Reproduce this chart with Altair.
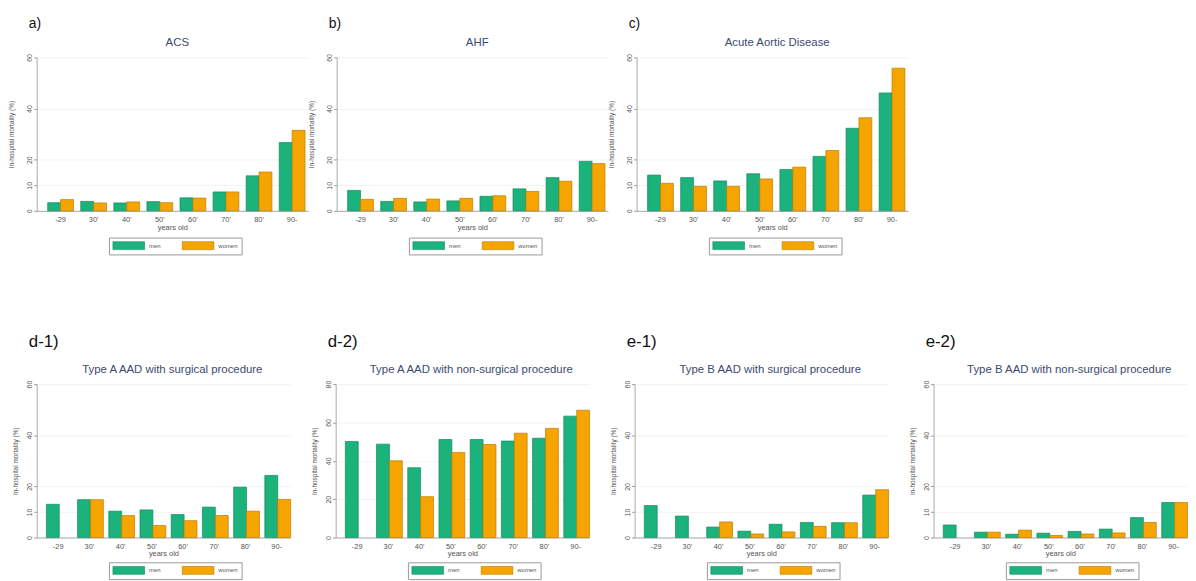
import altair as alt
import pandas as pd

categories = ["-29", "30'", "40'", "50'", "60'", "70'", "80'", "90-"]
sexes = ["men", "women"]

acs_men = [3.2, 3.7, 3.1, 3.6, 5.1, 7.4, 13.7, 26.7]
acs_women = [4.4, 3.1, 3.5, 3.2, 5.0, 7.4, 15.2, 31.5]
ahf_men = [8.0, 3.7, 3.5, 3.9, 5.7, 8.6, 13.0, 19.4]
ahf_women = [4.5, 4.9, 4.6, 4.9, 5.9, 7.6, 11.6, 18.5]
aad_men = [14.0, 13.0, 11.7, 14.5, 16.2, 21.3, 32.3, 46.1]
aad_women = [10.8, 9.6, 9.6, 12.5, 17.1, 23.6, 36.4, 55.8]
d1_men = [13.0, 14.8, 10.3, 10.8, 9.0, 11.9, 19.7, 24.3]
d1_women = [None, 14.8, 8.6, 4.7, 6.6, 8.6, 10.3, 14.9]
d2_men = [50.1, 48.7, 36.4, 51.1, 51.1, 50.3, 51.8, 63.3]
d2_women = [None, 40.0, 21.3, 44.4, 48.5, 54.4, 56.9, 66.4]
e1_men = [12.5, 8.4, 4.1, 2.5, 5.2, 5.9, 5.8, 16.6]
e1_women = [None, None, 6.1, 1.4, 2.2, 4.4, 5.8, 18.7]
e2_men = [4.9, 2.1, 1.3, 1.7, 2.4, 3.3, 7.8, 13.7]
e2_women = [None, 2.1, 2.9, 0.8, 1.4, 1.8, 5.9, 13.7]

y_title = "In-hospital mortality (%)"
x_title = "years old"
ticks_60 = [0, 10, 20, 40, 60]
ticks_80 = [0, 20, 40, 60, 80]

GREEN = "#1bb27c"
ORANGE = "#f6a500"
FONT = "Liberation Sans"


def make_panel(label, title, men, women, ymax, yticks, width, pad_outer,
               align, pad_inner, y_title_pad, head_dx, head_dy, label_size,
               label_offset, legend_y):
    rows = []
    for c, m, w in zip(categories, men, women):
        if m is not None:
            rows.append({"age": c, "sex": "men", "value": m})
        if w is not None:
            rows.append({"age": c, "sex": "women", "value": w})
    df = pd.DataFrame(rows)

    bars = alt.Chart(df).mark_bar(strokeWidth=0.7).encode(
        x=alt.X(
            "age:N", sort=categories,
            scale=alt.Scale(domain=categories, paddingInner=pad_inner,
                            paddingOuter=pad_outer, align=align),
            axis=alt.Axis(title=x_title, labelAngle=0, ticks=False, tickSize=0,
                          labelPadding=5, labelFontSize=7.5, labelColor="#555",
                          titleFontSize=7.5, titleFontWeight="normal",
                          titleColor="#555", titlePadding=0,
                          domainColor="#aaa", grid=False, labelFont=FONT,
                          titleFont=FONT),
        ),
        xOffset=alt.XOffset("sex:N", sort=sexes,
                            scale=alt.Scale(domain=sexes, paddingInner=0,
                                            paddingOuter=0)),
        y=alt.Y(
            "value:Q",
            scale=alt.Scale(domain=[0, ymax], nice=False),
            axis=alt.Axis(title=y_title, values=yticks, labelAngle=270,
                          labelFontSize=7, labelColor="#555", tickSize=3,
                          tickColor="#999", labelPadding=1,
                          titleFontSize=6.5, titleFontWeight="normal",
                          titleColor="#555", titlePadding=y_title_pad,
                          domainColor="#aaa", grid=True, gridColor="#efefef",
                          gridWidth=0.8, labelFont=FONT, titleFont=FONT),
        ),
        color=alt.Color(
            "sex:N", sort=sexes,
            scale=alt.Scale(domain=sexes, range=[GREEN, ORANGE]),
            legend=alt.Legend(
                title=None, orient="none", direction="horizontal",
                legendX=73, legendY=legend_y,
                symbolType="M-4,-1H4V1H-4Z", symbolSize=64,
                symbolOffset=12,
                symbolStrokeWidth=0.6, symbolStrokeColor="#777",
                labelFontSize=6, labelColor="#555", labelFont=FONT,
                labelOffset=16, columnPadding=20, padding=3.5,
                strokeColor="#999", fillColor="white",
            ),
        ),
        stroke=alt.Stroke(
            "sex:N", sort=sexes,
            scale=alt.Scale(domain=sexes, range=["#138a5d", "#b97c06"]),
            legend=None,
        ),
    )

    head = alt.Chart(pd.DataFrame({"t": [title]})).mark_text(
        align="center", baseline="middle", fontSize=11.5, font=FONT,
        color="#3d4a72"
    ).encode(text="t:N", x=alt.value(width / 2 + head_dx),
             y=alt.value(head_dy))

    return alt.layer(bars, head).properties(
        width=width, height=155,
        title=alt.TitleParams(text=label, fontSize=label_size, font=FONT,
                              fontWeight="normal", color="#111",
                              anchor="start", frame="group", dx=-8,
                              offset=label_offset),
    ).resolve_scale(color="independent", stroke="independent")


top_specs = [
    ("a)", "ACS", acs_men, acs_women),
    ("b)", "AHF", ahf_men, ahf_women),
    ("c)", "Acute Aortic Disease", aad_men, aad_women),
]
bottom_specs = [
    ("d-1)", "Type A AAD with surgical procedure", d1_men, d1_women, 60, ticks_60),
    ("d-2)", "Type A AAD with non-surgical procedure", d2_men, d2_women, 80, ticks_80),
    ("e-1)", "Type B AAD with surgical procedure", e1_men, e1_women, 60, ticks_60),
    ("e-2)", "Type B AAD with non-surgical procedure", e2_men, e2_women, 60, ticks_60),
]

top_row = alt.hconcat(
    *[make_panel(l, t, m, w, 60, ticks_60, 274, 0.21, 0.79, 0.22, 11.5, 5,
                 -15, 14, 5.5, 182)
      for l, t, m, w in top_specs],
    spacing=0,
).resolve_scale(color="independent", stroke="independent")

bottom_row = alt.hconcat(
    *[make_panel(l, t, m, w, ym, tk, 256, 0.18, 0.86, 0.24, 7.5, 9,
                 -14, 17, 13.5, 180)
      for l, t, m, w, ym, tk in bottom_specs],
    spacing=20,
).resolve_scale(color="independent", stroke="independent")

chart = alt.vconcat(top_row, bottom_row, spacing=78).resolve_scale(
    color="independent", stroke="independent"
).properties(
    padding={"left": 0, "top": 6, "right": 0, "bottom": 0},
    background="white",
).configure_view(stroke=None)

chart.save("out.html", embed_options={"renderer": "svg", "actions": False})
